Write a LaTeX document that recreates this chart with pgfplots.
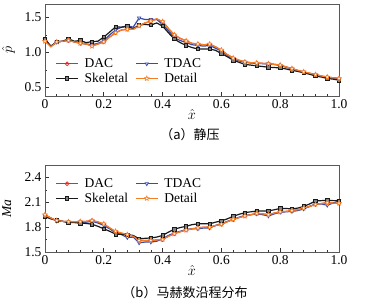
\documentclass[border=0pt]{standalone}
\usepackage{fontspec}
\setmainfont{Liberation Serif}
\newfontfamily\cjk{Noto Sans CJK SC}
\usepackage{pgfplots}
\usepackage{pgfplotstable}
\pgfplotsset{compat=1.18}

\definecolor{cdac}{RGB}{232,40,40}
\definecolor{ctdac}{RGB}{55,75,170}
\definecolor{cdet}{RGB}{245,125,35}
\definecolor{csk}{RGB}{25,25,25}

\pgfdeclareplotmark{ostar}{%
  \pgfpathmoveto{\pgfpointpolar{90}{\pgfplotmarksize}}%
  \pgfpathlineto{\pgfpointpolar{126}{0.45\pgfplotmarksize}}%
  \pgfpathlineto{\pgfpointpolar{162}{\pgfplotmarksize}}%
  \pgfpathlineto{\pgfpointpolar{198}{0.45\pgfplotmarksize}}%
  \pgfpathlineto{\pgfpointpolar{234}{\pgfplotmarksize}}%
  \pgfpathlineto{\pgfpointpolar{270}{0.45\pgfplotmarksize}}%
  \pgfpathlineto{\pgfpointpolar{306}{\pgfplotmarksize}}%
  \pgfpathlineto{\pgfpointpolar{342}{0.45\pgfplotmarksize}}%
  \pgfpathlineto{\pgfpointpolar{18}{\pgfplotmarksize}}%
  \pgfpathlineto{\pgfpointpolar{54}{0.45\pgfplotmarksize}}%
  \pgfpathclose
  \pgfusepathqfillstroke}

\pgfplotstableread{
x sk dac tdac det
0.00 1.19 1.17 1.18 1.16
0.02 1.09 1.085 1.09 1.08
0.04 1.15 1.15 1.15 1.15
0.06 1.16 1.16 1.16 1.16
0.08 1.195 1.17 1.18 1.17
0.10 1.16 1.15 1.15 1.15
0.12 1.17 1.13 1.14 1.13
0.14 1.14 1.12 1.12 1.12
0.16 1.155 1.095 1.11 1.09
0.18 1.16 1.12 1.13 1.12
0.20 1.22 1.15 1.17 1.15
0.22 1.29 1.22 1.25 1.22
0.24 1.365 1.28 1.32 1.28
0.26 1.36 1.32 1.36 1.32
0.28 1.37 1.33 1.38 1.33
0.30 1.34 1.33 1.36 1.33
0.32 1.39 1.38 1.49 1.38
0.34 1.40 1.42 1.47 1.42
0.36 1.39 1.445 1.47 1.445
0.38 1.42 1.475 1.47 1.48
0.40 1.375 1.44 1.40 1.44
0.42 1.28 1.34 1.31 1.34
0.44 1.19 1.25 1.21 1.25
0.46 1.14 1.20 1.17 1.20
0.48 1.10 1.165 1.14 1.165
0.50 1.07 1.13 1.11 1.13
0.52 1.05 1.12 1.10 1.12
0.54 1.05 1.11 1.09 1.11
0.56 1.05 1.115 1.10 1.12
0.58 1.03 1.08 1.06 1.08
0.60 0.985 1.03 1.02 1.035
0.62 0.94 0.97 0.96 0.97
0.64 0.89 0.92 0.91 0.92
0.66 0.86 0.89 0.88 0.89
0.68 0.83 0.865 0.86 0.865
0.70 0.82 0.855 0.85 0.855
0.72 0.81 0.85 0.845 0.85
0.74 0.80 0.845 0.84 0.845
0.76 0.79 0.84 0.835 0.84
0.78 0.785 0.83 0.83 0.83
0.80 0.78 0.82 0.815 0.82
0.82 0.765 0.795 0.79 0.795
0.84 0.745 0.77 0.765 0.77
0.86 0.73 0.745 0.74 0.745
0.88 0.71 0.72 0.72 0.725
0.90 0.69 0.705 0.70 0.705
0.92 0.665 0.685 0.68 0.685
0.94 0.65 0.665 0.66 0.665
0.96 0.63 0.65 0.645 0.65
0.98 0.62 0.64 0.635 0.64
1.00 0.605 0.63 0.62 0.63
}\ptab

\pgfplotstableread{
x sk dac tdac det
0.00 1.925 1.95 1.94 1.95
0.02 1.90 1.91 1.91 1.91
0.04 1.88 1.88 1.875 1.88
0.06 1.87 1.87 1.87 1.87
0.08 1.855 1.865 1.86 1.865
0.10 1.855 1.865 1.86 1.865
0.12 1.847 1.867 1.86 1.867
0.14 1.845 1.87 1.86 1.87
0.16 1.835 1.88 1.87 1.88
0.18 1.81 1.86 1.85 1.865
0.20 1.78 1.835 1.82 1.84
0.22 1.75 1.79 1.78 1.79
0.24 1.715 1.745 1.73 1.75
0.26 1.715 1.725 1.71 1.73
0.28 1.71 1.71 1.675 1.71
0.30 1.70 1.69 1.68 1.69
0.32 1.66 1.64 1.61 1.64
0.34 1.665 1.64 1.62 1.64
0.36 1.67 1.64 1.62 1.64
0.38 1.68 1.645 1.63 1.645
0.40 1.70 1.65 1.66 1.65
0.42 1.74 1.69 1.70 1.69
0.44 1.775 1.72 1.73 1.72
0.46 1.795 1.745 1.75 1.745
0.48 1.81 1.765 1.77 1.765
0.50 1.83 1.78 1.78 1.78
0.52 1.84 1.79 1.78 1.79
0.54 1.84 1.80 1.79 1.80
0.56 1.84 1.80 1.79 1.80
0.58 1.86 1.82 1.82 1.82
0.60 1.875 1.835 1.84 1.835
0.62 1.90 1.865 1.87 1.865
0.64 1.93 1.895 1.89 1.895
0.66 1.955 1.915 1.92 1.915
0.68 1.975 1.935 1.94 1.935
0.70 1.985 1.95 1.95 1.95
0.72 1.995 1.965 1.96 1.965
0.74 1.995 1.96 1.95 1.96
0.76 1.995 1.95 1.935 1.95
0.78 2.01 1.97 1.96 1.97
0.80 2.025 1.985 1.98 1.985
0.82 2.025 1.99 1.985 1.99
0.84 2.02 2.00 1.99 2.00
0.86 2.03 2.01 2.00 2.01
0.88 2.05 2.03 2.02 2.03
0.90 2.08 2.05 2.05 2.05
0.92 2.115 2.075 2.08 2.075
0.94 2.12 2.085 2.08 2.085
0.96 2.125 2.095 2.065 2.095
0.98 2.12 2.09 2.09 2.09
1.00 2.12 2.09 2.12 2.09
}\matab

\pgfplotsset{
  common/.style={
    scale only axis, width=294pt,
    xmin=0, xmax=1,
    xtick={0,0.2,0.4,0.6,0.8,1.0},
    xticklabels={0,0.2,0.4,0.6,0.8,1.0},
    minor x tick num=4, minor y tick num=1,
    tick pos=left, tick align=inside,
    major tick length=4pt, minor tick length=2.5pt,
    axis line style={gray!70!black, line width=0.6pt},
    every tick/.style={gray!40!black, line width=0.6pt},
    tick label style={font=\fontsize{13.5}{14}\selectfont},
    /pgf/number format/assume math mode=true,
    xlabel={$\hat{x}$},
    every axis x label/.style={at={(axis description cs:0.5,0)}, anchor=center, yshift=-18pt, font=\fontsize{13.5}{14}\selectfont},
    legend columns=2,
    legend cell align=left,
    legend style={draw=none, fill=none, font=\fontsize{13.5}{13.5}\selectfont,
      inner sep=0pt, row sep=0pt,
      /tikz/every odd column/.append style={column sep=4pt},
      /tikz/every even column/.append style={column sep=5pt}},
    legend image code/.code={\draw[mark repeat=2,mark phase=2] plot coordinates {(0pt,0pt) (11pt,0pt) (22pt,0pt)};},
    every axis plot/.append style={line width=1.2pt, mark size=1.9pt, mark repeat=2},
  },
  sdac/.style={cdac, mark=o, mark options={solid, fill=white, line width=0.7pt}},
  stdac/.style={ctdac, mark=triangle*, mark options={rotate=180, fill=white, line width=0.7pt}},
  ssk/.style={csk, mark=square*, mark options={fill=gray, line width=0.7pt}, mark size=1.7pt},
  sdet/.style={cdet, mark=ostar, mark options={fill=white, line width=0.6pt}, mark size=2.4pt},
}

\begin{document}
\begin{tikzpicture}
\path[use as bounding box] (-45pt,-54pt) rectangle (320pt,252pt);

\begin{axis}[common, at={(0pt,156pt)}, anchor=south west,
  height=92pt, ymin=0.38, ymax=1.69,
  ytick={0.5,1.0,1.5}, yticklabels={0.5,1.0,1.5},
  every axis y label/.style={at={(axis description cs:-0.124,0.5)}, anchor=center, rotate=90, font=\fontsize{13.5}{14}\selectfont},
  ylabel={$\hat{p}$},
  legend style={at={(axis description cs:0.035,0.43)}, anchor=north west}]
\addplot[sdac] table[x=x,y=dac]{\ptab};
\addlegendentry{DAC}
\addplot[stdac] table[x=x,y=tdac]{\ptab};
\addlegendentry{TDAC}
\addplot[ssk] table[x=x,y=sk]{\ptab};
\addlegendentry{Skeletal}
\addplot[sdet] table[x=x,y=det]{\ptab};
\addlegendentry{Detail}
\end{axis}

\begin{axis}[common, at={(0pt,0pt)}, anchor=south west,
  height=87pt, ymin=1.5, ymax=2.55,
  ytick={1.5,1.8,2.1,2.4}, yticklabels={1.5,1.8,2.1,2.4},
  every axis y label/.style={at={(axis description cs:-0.13,0.5)}, anchor=center, rotate=90, font=\fontsize{13.5}{14}\selectfont},
  ylabel={\textit{Ma}},
  legend style={at={(axis description cs:0.035,0.87)}, anchor=north west}]
\addplot[sdac] table[x=x,y=dac]{\matab};
\addlegendentry{DAC}
\addplot[stdac] table[x=x,y=tdac]{\matab};
\addlegendentry{TDAC}
\addplot[ssk] table[x=x,y=sk]{\matab};
\addlegendentry{Skeletal}
\addplot[sdet] table[x=x,y=det]{\matab};
\addlegendentry{Detail}
\end{axis}

\node[font=\cjk\fontsize{13}{13}\selectfont] at (145pt,117pt) {（a）静压};
\node[font=\cjk\fontsize{13}{13}\selectfont] at (140pt,-41pt) {（b）马赫数沿程分布};
\end{tikzpicture}
\end{document}
